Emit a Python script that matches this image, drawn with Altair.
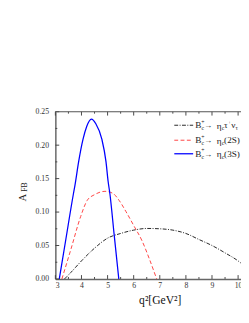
import altair as alt
import pandas as pd

# ---- data ----
blue_q = [3.15, 3.40, 3.69, 3.75, 3.89, 4.06, 4.20, 4.38, 4.55, 4.78, 4.94, 5.02, 5.09, 5.25, 5.43]
blue_a = [0.0, 0.059, 0.127, 0.140, 0.175, 0.209, 0.228, 0.239, 0.232, 0.209, 0.175, 0.146, 0.127, 0.067, 0.0]

red_q = [3.25, 3.60, 3.97, 4.22, 4.50, 4.90, 5.20, 5.45, 5.70, 6.00, 6.32, 6.60, 6.88]
red_a = [0.0, 0.045, 0.0935, 0.1175, 0.126, 0.131, 0.128, 0.117, 0.101, 0.080, 0.057, 0.030, 0.0]

black_q = [3.35, 3.60, 4.00, 4.50, 5.00, 5.50, 6.00, 6.50, 7.00, 7.50, 8.00, 8.50, 9.00, 9.50, 10.00, 10.10]
black_a = [0.0, 0.010, 0.027, 0.046, 0.061, 0.068, 0.073, 0.0755, 0.075, 0.073, 0.068, 0.059, 0.050, 0.039, 0.027, 0.024]

x_major = [3, 4, 5, 6, 7, 8, 9, 10]
x_minor = [3.5, 4.5, 5.5, 6.5, 7.5, 8.5, 9.5]
y_major = [0.0, 0.05, 0.10, 0.15, 0.20, 0.25]
y_minor = [0.025, 0.075, 0.125, 0.175, 0.225]

x_title = "q²[GeV²]"
y_title_main = "A"
y_title_sub = "FB"

SERIF = "Liberation Serif"
W, H = 192, 173
XDOM = [3, 3 + W / 27.0]

xs = alt.Scale(domain=XDOM, nice=False, zero=False)
ys = alt.Scale(domain=[0, 0.25], nice=False, zero=False)

xaxis = alt.Axis(values=x_major, format="d", ticks=False, grid=False,
                 labelFont=SERIF, labelFontSize=8, labelColor="#333", labelPadding=3,
                 domainColor="#666", domainWidth=1.5,
                 title=x_title, titleFont=SERIF, titleFontSize=12, titleFontWeight="normal",
                 titleColor="#111", titleX=108, titleY=16, titleBaseline="top", titleAlign="center")
yaxis = alt.Axis(values=y_major, format=".2f", ticks=False, grid=False,
                 labelFont=SERIF, labelFontSize=8, labelColor="#333", labelPadding=7,
                 domainColor="#666", domainWidth=1.5, title=None)


def X(field):
    return alt.X(f"{field}:Q", scale=xs, axis=xaxis)


def Y(field):
    return alt.Y(f"{field}:Q", scale=ys, axis=yaxis)


def curve(q, a, color, dash, width):
    df = pd.DataFrame({"q": q, "a": a})
    kw = dict(color=color, strokeWidth=width, interpolate="monotone", clip=True)
    if dash:
        kw["strokeDash"] = dash
    return alt.Chart(df).mark_line(**kw).encode(x=X("q"), y=Y("a"))


black = curve(black_q, black_a, "#222222", [4, 1.5, 1, 1.5], 1.0)
red = curve(red_q, red_a, "#ff4040", [4, 2.5], 1.0)
blue = curve(blue_q, blue_a, "#0000ff", None, 1.3)

TC = "#444"
xt_major = pd.DataFrame({"t": x_major})
xt_minor = pd.DataFrame({"t": x_minor})
yt_major = pd.DataFrame({"t": y_major})
yt_minor = pd.DataFrame({"t": y_minor})

ticks = [
    alt.Chart(xt_major).mark_rule(color=TC, strokeWidth=1).encode(x=X("t"), y=alt.value(H), y2=alt.value(H - 4)),
    alt.Chart(xt_major).mark_rule(color=TC, strokeWidth=1).encode(x=X("t"), y=alt.value(0), y2=alt.value(4)),
    alt.Chart(xt_minor).mark_rule(color=TC, strokeWidth=1).encode(x=X("t"), y=alt.value(H), y2=alt.value(H - 2)),
    alt.Chart(xt_minor).mark_rule(color=TC, strokeWidth=1).encode(x=X("t"), y=alt.value(0), y2=alt.value(2)),
    alt.Chart(yt_major).mark_rule(color=TC, strokeWidth=1).encode(y=Y("t"), x=alt.value(0), x2=alt.value(4)),
    alt.Chart(yt_minor).mark_rule(color=TC, strokeWidth=1).encode(y=Y("t"), x=alt.value(0), x2=alt.value(2)),
]

one = pd.DataFrame({"k": [0]})
top_border = alt.Chart(one).mark_rule(color="#555", strokeWidth=1.2).encode(
    x=alt.value(0), x2=alt.value(W), y=alt.value(0))


def piece(txt, x, y, size, angle=0, align="left"):
    return alt.Chart(one).mark_text(text=txt, font=SERIF, fontSize=size, align=align,
                                    baseline="middle", color="#222", angle=angle).encode(
        x=alt.value(x), y=alt.value(y))


# y-axis title A_FB (rotated)
ytitle = [
    piece(y_title_main, -33.7, 89, 11, angle=270, align="center"),
    piece(y_title_sub, -31.0, 78.0, 8, angle=270, align="center"),
]

# manual legend
rows_y = [14, 29.5, 43.5]
leg = []
styles = [("#222222", [4, 1.5, 1, 1.5], 1.0), ("#ff4040", [4, 2.5], 1.0), ("#0000ff", None, 1.3)]
tails = [None, "(2S)", "(3S)"]
for (col, dash, wdt), ry, tail in zip(styles, rows_y, tails):
    kw = dict(color=col, strokeWidth=wdt)
    if dash:
        kw["strokeDash"] = dash
    leg.append(alt.Chart(one).mark_rule(**kw).encode(x=alt.value(123), x2=alt.value(142.5), y=alt.value(ry)))
    leg.append(piece("B", 144.7, ry, 9.5))
    leg.append(piece("+", 150.9, ry - 3.5, 6))
    leg.append(piece("c", 151.2, ry + 3, 6))
    leg.append(piece("→", 153.8, ry, 8.5))
    leg.append(piece("η", 166.8, ry + 0.5, 9.5))
    leg.append(piece("c", 172.0, ry + 3, 6))
    if tail is None:
        leg.append(piece("τ", 174.5, ry, 9.5))
        leg.append(piece("+", 178.9, ry - 3.5, 5))
        leg.append(piece("ν", 181.8, ry, 9.5))
        leg.append(piece("τ", 186.2, ry + 3, 6))
    else:
        leg.append(piece(tail, 174.5, ry, 9.5))

chart = alt.layer(black, red, blue, *ticks, top_border, *ytitle, *leg).properties(
    width=W, height=H,
    autosize=alt.AutoSizeParams(type="none"),
    padding={"left": 49, "top": 102, "right": 0, "bottom": 32},
).configure_view(stroke=None)

chart.save("out.html", embed_options={"renderer": "svg", "actions": False})
